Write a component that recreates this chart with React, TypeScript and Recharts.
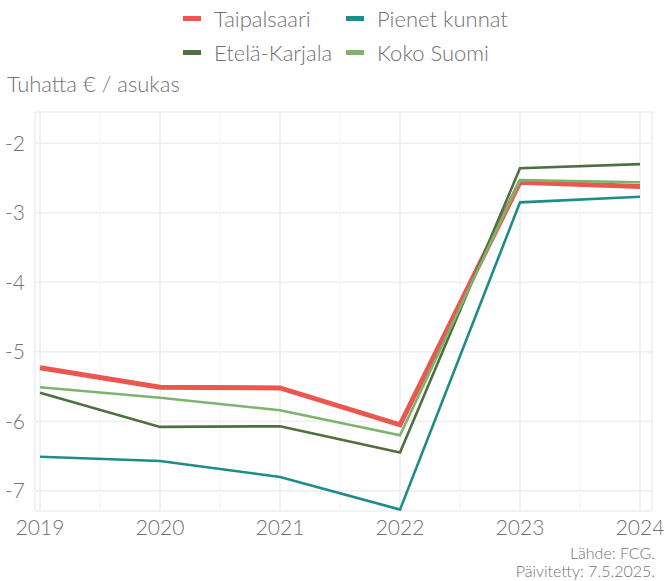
import { LineChart, Line, XAxis, YAxis, CartesianGrid, ReferenceLine } from 'recharts';

const years = [2019, 2020, 2021, 2022, 2023, 2024];
const minorYears = [2019.5, 2020.5, 2021.5, 2022.5, 2023.5];
const yTicks = [-7, -6, -5, -4, -3, -2];

const taipalsaari = [-5.23, -5.51, -5.52, -6.05, -2.56, -2.62];
const pienetKunnat = [-6.51, -6.57, -6.8, -7.27, -2.85, -2.77];
const etelaKarjala = [-5.59, -6.08, -6.07, -6.45, -2.36, -2.3];
const kokoSuomi = [-5.51, -5.66, -5.84, -6.2, -2.53, -2.56];

const series = [
  { key: 'taipalsaari', name: 'Taipalsaari', color: '#EB5650', width: 5 },
  { key: 'pienet', name: 'Pienet kunnat', color: '#1E8C89', width: 2.6 },
  { key: 'etela', name: 'Etelä-Karjala', color: '#4E7040', width: 2.6 },
  { key: 'koko', name: 'Koko Suomi', color: '#7DB46C', width: 2.6 },
];

const data = years.map((year, i) => ({
  year,
  taipalsaari: taipalsaari[i],
  pienet: pienetKunnat[i],
  etela: etelaKarjala[i],
  koko: kokoSuomi[i],
}));

const font = 'Lato, "Open Sans", sans-serif';
const grey = '#727272';

const App = () => {
  return (
    <div style={{ position: 'absolute', left: 0, top: 0, width: 666, height: 581, background: '#fff', fontFamily: font, fontWeight: 300 }}>
      {/* legend */}
      <div style={{ position: 'absolute', left: 183, top: 3, display: 'grid', gridTemplateColumns: '163px 180px', rowGap: 4 }}>
        {series.map((s) => (
          <div key={s.key} style={{ display: 'flex', alignItems: 'center', height: 30, color: grey, fontSize: 22 }}>
            <span style={{ display: 'inline-block', width: 18, height: 5, background: s.color, marginRight: 13 }} />
            {s.name}
          </div>
        ))}
      </div>
      <div style={{ position: 'absolute', left: 7, top: 70, color: grey, fontSize: 22 }}>Tuhatta € / asukas</div>
      <div style={{ position: 'absolute', right: 11, top: 544, color: grey, fontSize: 16, textAlign: 'right', lineHeight: '18px' }}>
        Lähde: FCG.
        <br />
        Päivitetty: 7.5.2025.
      </div>
      <LineChart width={666} height={581} data={data} margin={{ top: 112, right: 14, bottom: 40, left: 0 }}>
        <CartesianGrid stroke="#EFEFEF" strokeWidth={1.6} />
        {minorYears.map((m) => (
          <ReferenceLine key={m} x={m} stroke="#F3F3F3" strokeWidth={1} />
        ))}
        <XAxis
          dataKey="year"
          type="number"
          domain={[2018.958, 2024.1]}
          ticks={years}
          allowDataOverflow
          axisLine={false}
          tickLine={false}
          height={30}
          tickMargin={3}
          tick={{ fill: grey, fontSize: 21, fontFamily: font, fontWeight: 300 }}
        />
        <YAxis
          type="number"
          domain={[-7.29, -1.55]}
          ticks={yTicks}
          allowDataOverflow
          axisLine={false}
          tickLine={false}
          width={35}
          tickMargin={4}
          tick={{ fill: grey, fontSize: 21, fontFamily: font, fontWeight: 300 }}
        />
        {series.map((s) => (
          <Line
            key={s.key}
            dataKey={s.key}
            name={s.name}
            stroke={s.color}
            strokeWidth={s.width}
            dot={false}
            type="linear"
            isAnimationActive={false}
          />
        ))}
      </LineChart>
    </div>
  );
};

export default App;
